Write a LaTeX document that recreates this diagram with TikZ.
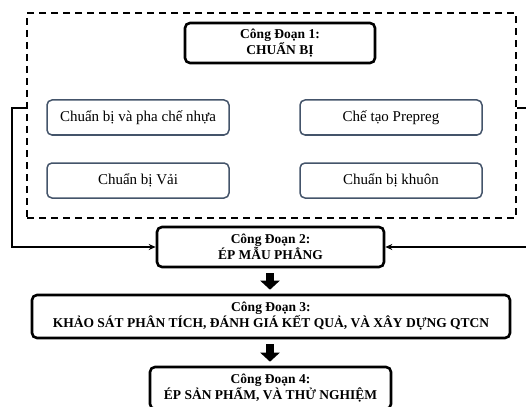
\documentclass[tikz,border=0pt]{standalone}
\usepackage{fontspec}
\setmainfont{Liberation Serif}
\usetikzlibrary{arrows.meta}
\definecolor{slate}{HTML}{44546A}
\begin{document}
\begin{tikzpicture}[x=1pt,y=-1pt,
  stagebox/.style={draw=black,line width=2.6pt,rounded corners=5pt,align=center,
    font=\fontsize{13.5}{14.5}\selectfont\bfseries,inner sep=0pt},
  subbox/.style={draw=slate,line width=1.5pt,rounded corners=5pt,
    minimum width=182pt,minimum height=35pt,inner sep=0pt,
    font=\fontsize{15}{17}\selectfont},
  groupbox/.style={draw=black,dashed,dash pattern=on 7pt off 5pt,line width=1.5pt,inner sep=0pt},
  link/.style={draw=black,line width=1.5pt,-{Stealth[length=7pt,width=6pt]}},
  blockarrow/.style={draw=black,line width=8pt,shorten <=5pt,shorten >=4pt,
    -{Triangle[length=9pt,width=19pt]}}]
\useasboundingbox (0,0) rectangle (526,406);
\clip (0,0) rectangle (526,406);
\node[groupbox,minimum width=489pt,minimum height=205pt] (grp) at (271.5,115.5) {};
\node[stagebox,minimum width=190pt,minimum height=40pt] (s1) at (280,43) {Công Đoạn 1:\\CHUẨN BỊ};
\node[subbox] (a) at (138,117.5) {Chuẩn bị và pha chế nhựa};
\node[subbox] (b) at (391,117.5) {Chế tạo Prepreg};
\node[subbox] (c) at (138,180.5) {Chuẩn bị Vải};
\node[subbox] (d) at (391,180.5) {Chuẩn bị khuôn};
\node[stagebox,minimum width=227pt,minimum height=40pt] (s2) at (270.5,247) {Công Đoạn 2:\\ÉP MẪU PHẲNG};
\node[stagebox,minimum width=478pt,minimum height=43pt] (s3) at (271,316.5) {Công Đoạn 3:\\KHẢO SÁT PHÂN TÍCH, ĐÁNH GIÁ KẾT QUẢ, VÀ XÂY DỰNG QTCN};
\node[stagebox,minimum width=241pt,minimum height=42pt] (s4) at (270.5,388) {Công Đoạn 4:\\ÉP SẢN PHẨM, VÀ THỬ NGHIỆM};
\draw[blockarrow] (s2.south -| 270,0) -- (s3.north -| 270,0);
\draw[blockarrow] (s3.south -| 270,0) -- (s4.north -| 270,0);
\coordinate (lt) at (grp.west |- 0,108);
\coordinate (rt) at (grp.east |- 0,108);
\draw[link] (lt) -- (12,108) |- (s2.west);
\draw[link] (rt) -- (532,108) |- (s2.east);
\end{tikzpicture}
\end{document}
